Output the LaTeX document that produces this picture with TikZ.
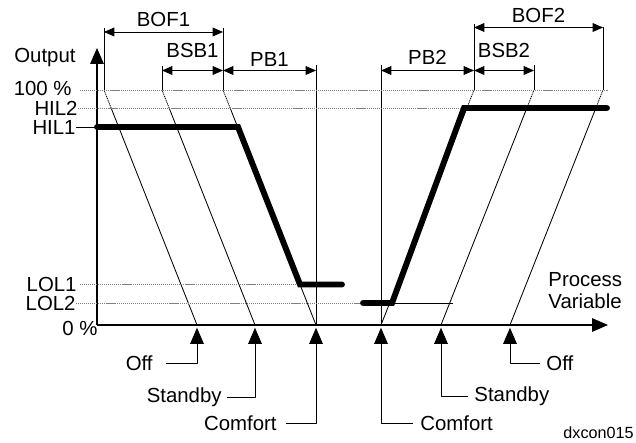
\documentclass[tikz,border=0pt]{standalone}
\usepackage{fontspec}
\setmainfont{Liberation Sans}
\usetikzlibrary{arrows.meta,calc}
\tikzset{
  ptr/.style={-{Triangle[length=4mm,width=3.4mm]}},
  dimarrow/.style={{Triangle[length=2.6mm,width=2.2mm]}-{Triangle[length=2.6mm,width=2.2mm]}},
  lvl/.style={gray,dash pattern=on .8pt off .6pt},
  heavy/.style={line width=4.2pt,line cap=round,line join=miter},
  lab/.style={inner sep=0pt},
}
\begin{document}
\begin{tikzpicture}[scale=.25,line join=round,line width=.6pt,font=\fontsize{14.5}{15.3}\selectfont]
\useasboundingbox (-9.7,-11.7) rectangle (53.9,32.5);
% axes
\coordinate (o) at (0,0);
\coordinate (xend) at (51.1,0);
\coordinate (yend) at (0,27.7);
\draw[ptr,line width=.8pt] (o) -- (xend);
\draw[ptr,line width=.8pt] (o) -- (yend);
\node[lab,anchor=west,align=left] (pv) at (45.1,3.45) {Process\\Variable};
% switching lines
\foreach \n/\b/\t in {off1/10/0.7,sb1/15.8/6.5,cf1/21.9/12.6,cf2/28.4/37.7,sb2/34.4/43.7,off2/41.3/50.6}{
  \coordinate (\n) at (\b,0);
  \coordinate (\n t) at (\t,23.5);
  \draw (\n) -- ($(\n)!.923!(\n t)$) coordinate (\n h);
  \draw[lvl,black] (\n h) -- (\n t);
}
\draw (off1t) -- ++(0,6.2);
\draw (sb1t) -- ++(0,2.4);
\draw (cf1t) -- ++(0,6.2);
\draw (cf1) -- ++(0,26);
\draw (cf2) -- ++(0,26);
\draw (cf2t) -- ++(0,6.6);
\draw (sb2t) -- ++(0,2.5);
\draw (off2t) -- ++(0,6.3);
% bands
\coordinate (row1) at (0,29.3);
\coordinate (row2) at (0,25.45);
\coordinate (row3) at (0,29.75);
\draw[dimarrow] (off1t |- row1) -- (cf1t |- row1) node[midway,above=1.2mm,lab] (bof1) {BOF1};
\draw[dimarrow] (sb1t |- row2) -- (cf1t |- row2) node[midway,above=3mm,lab] (bsb1) {BSB1};
\draw[dimarrow] (cf1t |- row2) -- (cf1 |- row2) node[midway,above=1mm,lab] (pb1) {PB1};
\draw[dimarrow] (cf2 |- row2) -- (cf2t |- row2) node[midway,above=1.3mm,lab] (pb2) {PB2};
\draw[dimarrow] (cf2t |- row2) -- (sb2t |- row2) node[midway,above=3mm,lab] (bsb2) {BSB2};
\draw[dimarrow] (cf2t |- row3) -- (off2t |- row3) node[midway,above=1.2mm,lab] (bof2) {BOF2};
% output levels
\node[lab,anchor=east] (outp) at (-2.1,26.75) {Output};
\node[lab,anchor=east] (p100) at (-2.5,23.7) {100 \%};
\node[lab,anchor=east] (hil2) at (-1.9,21.7) {HIL2};
\node[lab,anchor=east] (hil1) at (-2.1,19.8) {HIL1};
\node[lab,anchor=east] (lol1) at (-2.0,4.05) {LOL1};
\node[lab,anchor=east] (lol2) at (-2.1,2.2) {LOL2};
\node[lab,anchor=east] (p0) at (0.1,-0.3) {0 \%};
\coordinate (h1a) at (0,19.8);
\coordinate (h1b) at (14.1,19.8);
\coordinate (h1c) at (20.3,4.05);
\coordinate (h1d) at (24.5,4.05);
\coordinate (h2a) at (26.6,2.2);
\coordinate (h2b) at (29.5,2.2);
\coordinate (h2c) at (36.7,21.7);
\coordinate (h2d) at (51.0,21.7);
\coordinate (l100) at (-1.7,23.5);
\coordinate (lol2e) at (35.6,2.2);
\draw[lvl] (l100) -- (l100 -| xend);
\draw[lvl] (hil2) -- (h2c);
\draw (hil1) -- (h1a);
\draw[lvl,shorten <=.8mm] (lol1) -- (h1c);
\draw[lvl] (lol2) -- (h2a);
\draw (h2b) -- (lol2e);
\draw[heavy] (h1a) -- (h1b) -- (h1c) -- (h1d);
\draw[heavy] (h2a) -- (h2b) -- (h2c) -- (h2d);
% modes
\node[lab,anchor=east] (offa) at (5.6,-3.8) {Off};
\node[lab,anchor=east] (sba) at (12.5,-7.2) {Standby};
\node[lab,anchor=east] (cfa) at (18.0,-9.8) {Comfort};
\node[lab,anchor=west] (cfb) at (32.3,-9.8) {Comfort};
\node[lab,anchor=west] (sbb) at (37.7,-7.1) {Standby};
\node[lab,anchor=west] (offb) at (44.9,-3.8) {Off};
\draw[ptr,shorten <=3.2mm,shorten >=.7mm] (offa) -| (off1);
\draw[ptr,shorten <=1.3mm,shorten >=.7mm] (sba) -| (sb1);
\draw[ptr,shorten <=2.2mm,shorten >=.7mm] (cfa) -| (cf1);
\draw[ptr,shorten <=1.8mm,shorten >=.7mm] (cfb) -| (cf2);
\draw[ptr,shorten <=1.5mm,shorten >=.7mm] (sbb) -| (sb2);
\draw[ptr,shorten <=1.5mm,shorten >=.7mm] (offb) -| (off2);
\node[lab,anchor=east,font=\fontsize{11.5}{13}\selectfont] (ref) at (53.7,-10.8) {dxcon015};
\end{tikzpicture}
\end{document}
